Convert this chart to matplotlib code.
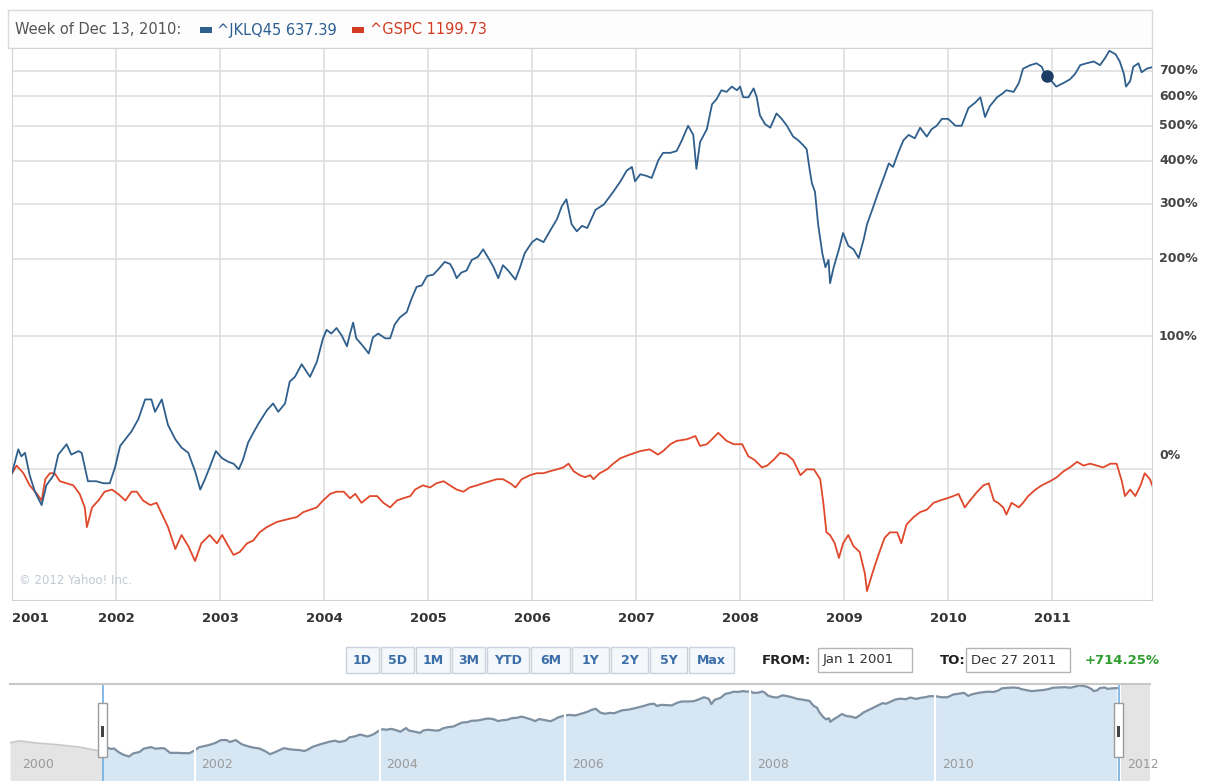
import numpy as np
import matplotlib
matplotlib.use("Agg")
import matplotlib.pyplot as plt
from matplotlib.patches import Rectangle
from matplotlib.ticker import NullLocator
from matplotlib.transforms import blended_transform_factory

plt.rcParams['font.family'] = ['DejaVu Sans']

# ---- data (percent change since Jan 1 2001) ----
blue_year = [2001.00, 2001.06, 2001.09, 2001.125, 2001.17, 2001.22, 2001.285, 2001.33, 2001.40, 2001.445,
             2001.525, 2001.57, 2001.64, 2001.67, 2001.73, 2001.81, 2001.88, 2001.94, 2001.99, 2002.04,
             2002.09, 2002.15, 2002.215, 2002.28, 2002.34, 2002.375, 2002.44, 2002.50, 2002.57, 2002.63,
             2002.695, 2002.76, 2002.81, 2002.855, 2002.90, 2002.96, 2003.02, 2003.08, 2003.13, 2003.18,
             2003.22, 2003.27, 2003.32, 2003.37, 2003.45, 2003.51, 2003.56, 2003.625, 2003.67, 2003.72,
             2003.785, 2003.865, 2003.93, 2003.99, 2004.025, 2004.07, 2004.12, 2004.17, 2004.22, 2004.25,
             2004.28, 2004.31, 2004.36, 2004.43, 2004.47, 2004.52, 2004.59, 2004.635, 2004.68, 2004.73,
             2004.795, 2004.84, 2004.89, 2004.94, 2004.99, 2005.05, 2005.10, 2005.16, 2005.21, 2005.24,
             2005.275, 2005.32, 2005.37, 2005.42, 2005.48, 2005.53, 2005.58, 2005.63, 2005.675, 2005.72,
             2005.77, 2005.84, 2005.885, 2005.93, 2006.00, 2006.045, 2006.11, 2006.17, 2006.24, 2006.285,
             2006.33, 2006.38, 2006.43, 2006.48, 2006.53, 2006.61, 2006.69, 2006.78, 2006.85, 2006.91,
             2006.96, 2006.99, 2007.04, 2007.10, 2007.15, 2007.215, 2007.26, 2007.33, 2007.39, 2007.44,
             2007.50, 2007.55, 2007.58, 2007.615, 2007.68, 2007.73, 2007.775, 2007.82, 2007.87, 2007.92,
             2007.97, 2008.00, 2008.03, 2008.08, 2008.13, 2008.16, 2008.19, 2008.24, 2008.29, 2008.35,
             2008.40, 2008.45, 2008.51, 2008.56, 2008.61, 2008.64, 2008.67, 2008.69, 2008.72, 2008.75,
             2008.79, 2008.82, 2008.85, 2008.865, 2008.90, 2008.95, 2008.99, 2009.04, 2009.09, 2009.14,
             2009.19, 2009.22, 2009.27, 2009.33, 2009.38, 2009.43, 2009.47, 2009.52, 2009.57, 2009.62,
             2009.68, 2009.73, 2009.795, 2009.84, 2009.89, 2009.94, 2010.00, 2010.07, 2010.13, 2010.195,
             2010.26, 2010.31, 2010.355, 2010.40, 2010.47, 2010.52, 2010.56, 2010.63, 2010.68, 2010.72,
             2010.79, 2010.85, 2010.90, 2010.93, 2010.98, 2011.04, 2011.11, 2011.17, 2011.22, 2011.27,
             2011.33, 2011.40, 2011.46, 2011.51, 2011.55, 2011.61, 2011.65, 2011.69, 2011.71, 2011.75,
             2011.78, 2011.83, 2011.86, 2011.91, 2011.96]
blue_pct = [-2, 11, 7, 9, -3, -11, -17, -8, -3, 8,
            14, 8, 10, 9, -6, -6, -7, -7, 1, 13,
            17, 22, 30, 44, 44, 35, 44, 26, 17, 12,
            9, -1, -10, -5, 1, 10, 6, 4, 3, 0,
            5, 15, 21, 27, 36, 41, 35, 41, 58, 62,
            73, 62, 75, 98, 107, 103, 109, 101, 90, 103,
            115, 98, 92, 83, 99, 103, 98, 98, 113, 121,
            127, 143, 159, 161, 174, 176, 184, 195, 192, 184,
            171, 179, 182, 198, 203, 215, 201, 187, 171, 190,
            182, 169, 187, 209, 227, 233, 227, 246, 269, 294,
            309, 259, 246, 256, 252, 287, 298, 325, 349, 375,
            384, 349, 366, 362, 357, 402, 421, 421, 426, 456,
            500, 472, 379, 451, 489, 571, 590, 622, 616, 636,
            622, 636, 596, 596, 629, 596, 534, 505, 494, 540,
            522, 500, 467, 456, 441, 431, 375, 345, 325, 259,
            209, 187, 198, 164, 187, 215, 243, 221, 215, 201,
            233, 259, 287, 325, 357, 393, 384, 421, 456, 472,
            462, 494, 467, 489, 500, 522, 522, 500, 500, 558,
            577, 596, 528, 564, 596, 609, 622, 616, 650, 708,
            723, 731, 716, 686, 664, 636, 650, 664, 686, 723,
            731, 739, 723, 755, 787, 771, 739, 686, 636, 657,
            716, 731, 693, 708, 714]

red_year = [2001.00, 2001.045, 2001.11, 2001.17, 2001.24, 2001.285, 2001.32, 2001.365, 2001.41, 2001.46,
            2001.525, 2001.59, 2001.65, 2001.70, 2001.72, 2001.77, 2001.83, 2001.89, 2001.96, 2002.02,
            2002.09, 2002.15, 2002.20, 2002.26, 2002.33, 2002.39, 2002.455, 2002.50, 2002.57, 2002.63,
            2002.695, 2002.76, 2002.82, 2002.90, 2002.97, 2003.02, 2003.08, 2003.13, 2003.19, 2003.26,
            2003.32, 2003.38, 2003.45, 2003.545, 2003.64, 2003.74, 2003.80, 2003.865, 2003.93, 2003.99,
            2004.06, 2004.12, 2004.19, 2004.25, 2004.30, 2004.36, 2004.44, 2004.51, 2004.57, 2004.635,
            2004.70, 2004.76, 2004.83, 2004.875, 2004.95, 2005.02, 2005.08, 2005.15, 2005.21, 2005.275,
            2005.34, 2005.40, 2005.47, 2005.53, 2005.595, 2005.66, 2005.72, 2005.79, 2005.84, 2005.90,
            2005.98, 2006.045, 2006.11, 2006.17, 2006.24, 2006.30, 2006.35, 2006.40, 2006.46, 2006.51,
            2006.56, 2006.59, 2006.65, 2006.72, 2006.78, 2006.85, 2006.94, 2007.04, 2007.13, 2007.21,
            2007.26, 2007.33, 2007.39, 2007.49, 2007.57, 2007.615, 2007.68, 2007.73, 2007.79, 2007.87,
            2007.94, 2008.02, 2008.08, 2008.14, 2008.21, 2008.26, 2008.32, 2008.385, 2008.45, 2008.51,
            2008.58, 2008.64, 2008.71, 2008.77, 2008.80, 2008.83, 2008.865, 2008.91, 2008.95, 2008.99,
            2009.04, 2009.09, 2009.15, 2009.20, 2009.22, 2009.27, 2009.31, 2009.35, 2009.39, 2009.44,
            2009.51, 2009.55, 2009.60, 2009.67, 2009.73, 2009.795, 2009.86, 2009.92, 2009.99, 2010.05,
            2010.10, 2010.16, 2010.21, 2010.28, 2010.34, 2010.39, 2010.44, 2010.48, 2010.53, 2010.56,
            2010.61, 2010.68, 2010.72, 2010.77, 2010.84, 2010.90, 2010.98, 2011.045, 2011.11, 2011.17,
            2011.24, 2011.30, 2011.365, 2011.43, 2011.49, 2011.56, 2011.62, 2011.67, 2011.70, 2011.75,
            2011.80, 2011.85, 2011.89, 2011.94, 2011.97]
red_pct = [-2, 2, -2, -8, -12, -15, -5, -2, -2, -6,
           -7, -8, -12, -18, -26, -18, -15, -11, -10, -12,
           -15, -11, -11, -15, -17, -16, -22, -26, -34, -29,
           -33, -38, -32, -29, -32, -29, -33, -36, -35, -32,
           -31, -28, -26, -24, -23, -22, -20, -19, -18, -15,
           -12, -11, -11, -14, -12, -16, -13, -13, -16, -18,
           -15, -14, -13, -10, -8, -9, -7, -6, -8, -10,
           -11, -9, -8, -7, -6, -5, -5, -7, -9, -5,
           -3, -2, -2, -1, 0, 1, 3, -1, -3, -4,
           -3, -5, -2, 0, 3, 6, 8, 10, 11, 8,
           10, 14, 16, 17, 19, 13, 14, 17, 21, 16,
           14, 14, 7, 5, 1, 2, 5, 9, 8, 5,
           -3, 0, 0, -5, -16, -28, -29, -32, -37, -32,
           -29, -33, -35, -42, -47, -42, -38, -34, -30, -28,
           -28, -32, -25, -22, -20, -19, -16, -15, -14, -13,
           -12, -18, -15, -11, -8, -7, -15, -16, -18, -21,
           -16, -18, -16, -13, -10, -8, -6, -4, -1, 1,
           4, 2, 3, 2, 1, 3, 3, -6, -13, -10,
           -13, -8, -2, -5, -9]

# navigator: the index in 2000, before the selected range
nav_pre_year = [2000.00, 2000.10, 2000.30, 2000.50, 2000.75, 2001.00]
nav_pre_pct = [32, 40, 30, 24, 14, -2]

y_ticks_pct = [0, 100, 200, 300, 400, 500, 600, 700]
x_years = list(range(2001, 2012))
nav_years = list(range(2000, 2013, 2))
marker_year = 2010.95

buttons = ['1D', '5D', '1M', '3M', 'YTD', '6M', '1Y', '2Y', '5Y', 'Max']
button_edges = [345, 380, 415, 451, 486, 530, 571, 610, 649, 688, 735]

BLUE = '#2f5f8c'
RED = '#e0482b'
GRID = '#dcdcdc'

blue = 1 + np.array(blue_pct) / 100
red = 1 + np.array(red_pct) / 100

W, H = 1206, 781
fig = plt.figure(figsize=(W / 100, H / 100), dpi=100)


def px_box(l, t, r, b):
    return [l / W, 1 - b / H, (r - l) / W, (b - t) / H]


# ---- overlay for header / controls (pixel coordinates) ----
ui = fig.add_axes([0, 0, 1, 1])
ui.set_xlim(0, W)
ui.set_ylim(H, 0)
ui.axis('off')

ui.add_patch(Rectangle((8, 10), 1144, 38, fc='#fdfdfd', ec='#dadada', lw=1))
ui.text(15, 30, 'Week of Dec 13, 2010:', color='#555555', fontsize=10.5, va='center')
ui.add_patch(Rectangle((200, 27), 12, 6, fc=BLUE, ec='none'))
ui.text(217, 30, '^JKLQ45 637.39', color='#2c5f94', fontsize=10.5, va='center')
ui.add_patch(Rectangle((352, 27), 12, 6, fc='#d33c22', ec='none'))
ui.text(370, 30, '^GSPC 1199.73', color='#d33c22', fontsize=10.5, va='center')

for lab, l, r in zip(buttons, button_edges[:-1], button_edges[1:]):
    ui.add_patch(Rectangle((l + 1, 647), r - l - 2, 26, fc='#f4f8fc', ec='#c9d2dc', lw=1))
    ui.text((l + r) / 2, 660, lab, color='#3b6ea8', fontsize=9, fontweight='bold',
            ha='center', va='center')

ui.text(762, 660, 'FROM:', color='#222222', fontsize=9.5, fontweight='bold', va='center')
ui.add_patch(Rectangle((818, 648), 94, 24, fc='white', ec='#b5b5b5', lw=1))
ui.text(823, 660, 'Jan 1 2001', color='#333333', fontsize=9.5, va='center')
ui.text(940, 660, 'TO:', color='#222222', fontsize=9.5, fontweight='bold', va='center')
ui.add_patch(Rectangle((966, 648), 104, 24, fc='white', ec='#b5b5b5', lw=1))
ui.text(971, 660, 'Dec 27 2011', color='#333333', fontsize=9.5, va='center')
ui.text(1085, 660, '+714.25%', color='#2f9e2f', fontsize=9.5, fontweight='bold', va='center')

# ---- main chart ----
ax = fig.add_axes(px_box(12, 48, 1152, 600))
ax.set_yscale('log')
ax.plot(red_year, red, color=RED, lw=1.3, zorder=3)
ax.plot(blue_year, blue, color=BLUE, lw=1.3, zorder=4)
ax.plot([marker_year], [np.interp(marker_year, blue_year, blue)], 'o', color='#1c3e66',
        ms=8, zorder=5)

ax.set_xlim(2001.0, 2011.96)
ax.set_ylim(0.506, 9.0)
y_ratio = [1 + p / 100 for p in y_ticks_pct]
ax.set_yticks(y_ratio)
ax.yaxis.set_minor_locator(NullLocator())
ax.set_yticklabels([])
ax.set_xticks(x_years)
ax.set_xticklabels([str(y) for y in x_years], fontsize=9.5, fontweight='bold', color='#333333')
ax.get_xticklabels()[0].set_ha('left')
ax.tick_params(length=0, pad=9)
ax.tick_params(axis='y', length=0)
ax.grid(True, color=GRID, lw=1.1)
ax.set_axisbelow(True)
for s in ax.spines.values():
    s.set_color('#d2d2d2')

trans = blended_transform_factory(ax.transAxes, ax.transData)
for p, r in zip(y_ticks_pct, y_ratio):
    ax.annotate(f'{p}%', xy=(1, r), xycoords=trans, xytext=(5, 10 if p == 0 else 0),
                textcoords='offset points', va='center', ha='left', fontsize=9,
                fontweight='bold', color='#444444', annotation_clip=False)

ax.text(0.006, 0.036, '\u00a9 2012 Yahoo! Inc.', transform=ax.transAxes, fontsize=8.5,
        color='#c3cad3', va='center')

# ---- navigator ----
nav = fig.add_axes(px_box(10, 684, 1150, 781))
nav.set_yscale('log')
nav.set_xlim(2000.0, 2012.32)
nav.set_ylim(0.368, 9.33)
nav_floor = 0.368
pre = 1 + np.array(nav_pre_pct) / 100
nav.fill_between(nav_pre_year, pre, nav_floor, color='#e4e4e4', lw=0)
nav.plot(nav_pre_year, pre, color='#c8c8c8', lw=1.2)
nav.fill_between(blue_year, blue, nav_floor, color='#d7e6f3', lw=0)
nav.plot(blue_year, blue, color='#7d8fa0', lw=1.6)
nav.axvspan(blue_year[-1] + 0.02, 2012.32, color='#e4e4e4', lw=0)
for yr in nav_years[1:]:
    nav.axvline(yr, color='white', lw=1.5)
ntrans = blended_transform_factory(nav.transData, nav.transAxes)
for yr in nav_years:
    nav.text(yr + (0.13 if yr == 2000 else 0.07), 0.17, str(yr), transform=ntrans,
             fontsize=9, color='#9a9a9a', va='center')
for xh in [2001.0, blue_year[-1] + 0.02]:
    nav.axvline(xh, color='#70aee0', lw=1.2)
    nav.add_patch(Rectangle((xh - 0.05, 0.25), 0.1, 0.55, transform=ntrans,
                            fc='white', ec='#9a9a9a', lw=1, zorder=5))
    nav.add_patch(Rectangle((xh - 0.02, 0.45), 0.04, 0.12, transform=ntrans,
                            fc='#444444', ec='none', zorder=6))
nav.set_xticks([])
nav.set_yticks([])
nav.yaxis.set_minor_locator(NullLocator())
for k, s in nav.spines.items():
    s.set_visible(k == 'top')
nav.spines['top'].set_color('#c8c8c8')
nav.spines['top'].set_linewidth(1.5)

fig.savefig('out.png', dpi=100)
